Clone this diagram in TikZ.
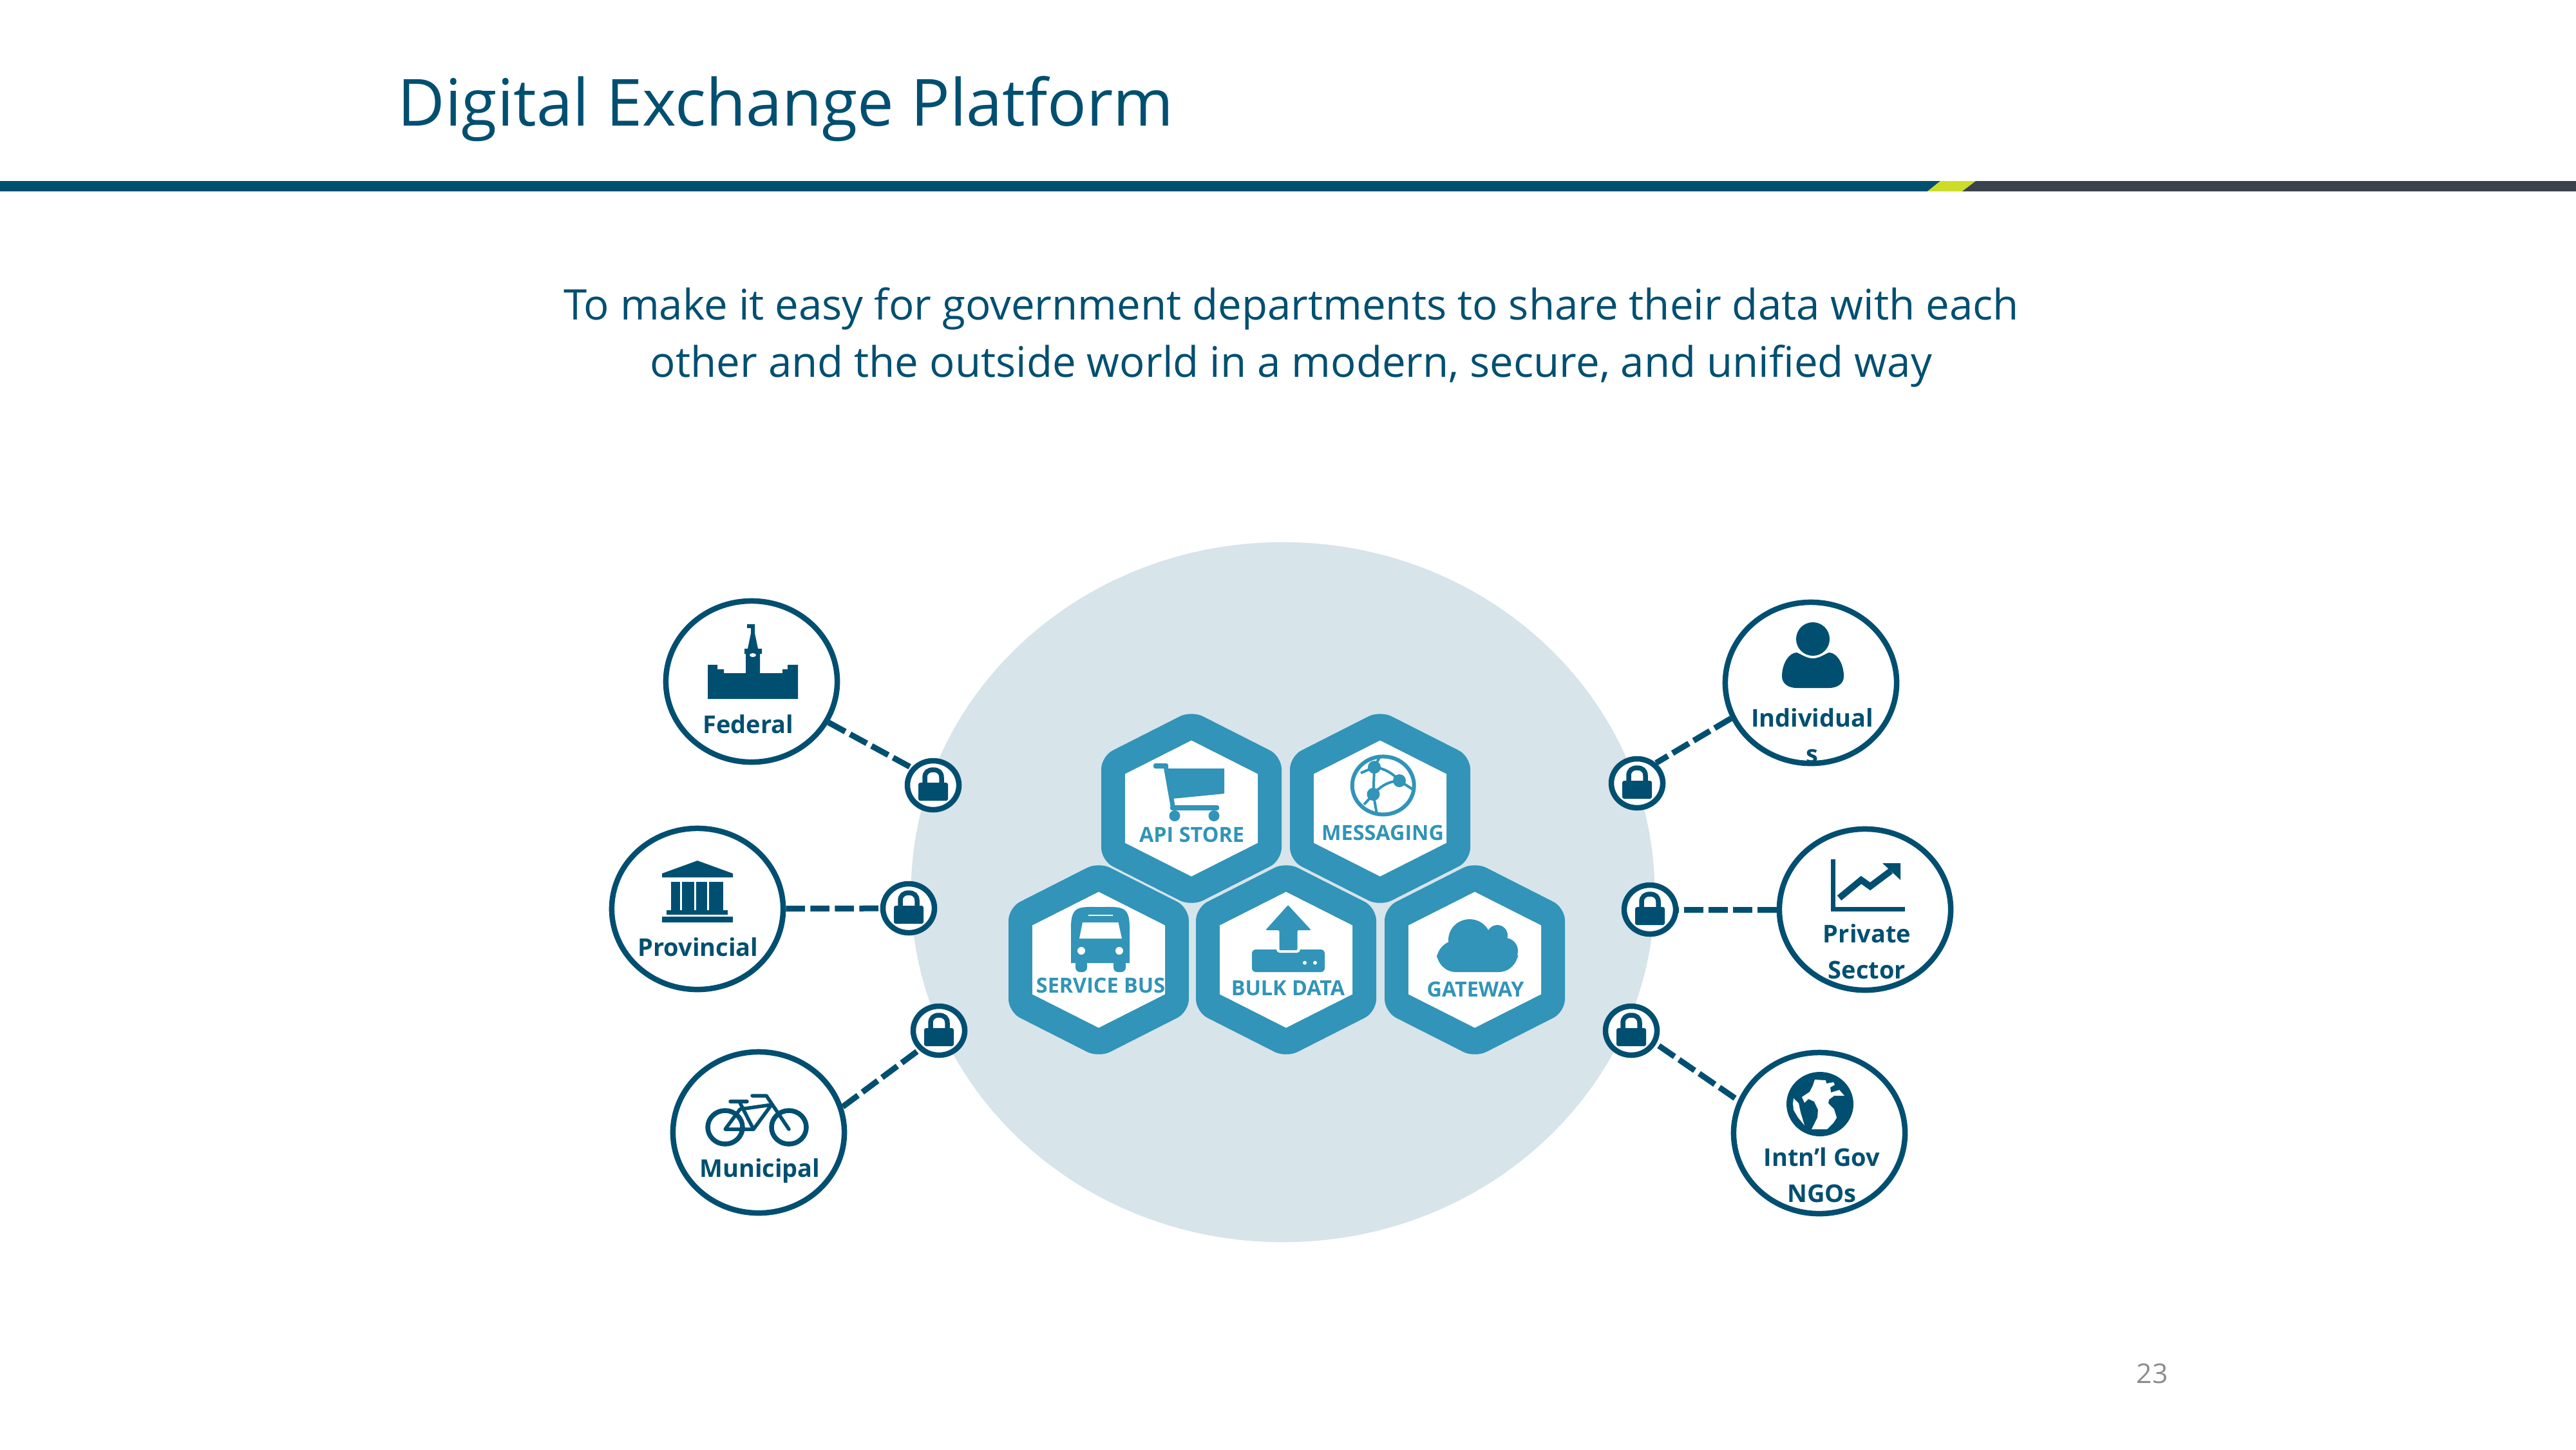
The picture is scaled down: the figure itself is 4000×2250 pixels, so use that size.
\documentclass[tikz,border=0pt]{standalone}
\usepackage{fontspec}
\setmainfont{Open Sans}
\usetikzlibrary{shapes.geometric}
\definecolor{navy}{HTML}{004F71}
\definecolor{teal}{HTML}{3194B8}
\definecolor{pale}{HTML}{D7E4EA}
\definecolor{lime}{HTML}{CDDC29}
\definecolor{slate}{HTML}{3A424B}
\tikzset{
  party/.style={ellipse,draw=navy,fill=white,line width=0.085cm,inner sep=0pt,minimum width=2.66cm,minimum height=2.5cm},
  ring/.style={ellipse,draw=navy,fill=white,line width=0.085cm,inner sep=0pt,minimum width=0.8cm,minimum height=0.76cm},
  link/.style={draw=navy,line width=0.09cm,dash pattern=on 0.295cm off 0.085cm},
  plabel/.style={text=navy,inner sep=0pt,align=center,font=\bfseries\fontsize{10.8}{16}\selectfont},
  hlabel/.style={text=teal,inner sep=0pt,font=\bfseries\fontsize{9.2}{11}\selectfont},
  title/.style={text=navy,inner sep=0pt,font=\fontsize{28.7}{34}\selectfont},
  lead/.style={text=navy,inner sep=0pt,align=center,font=\fontsize{18.6}{25.2}\selectfont},
  pageno/.style={text=black!45,inner sep=0pt,font=\fontsize{12}{14}\selectfont}
}
\newcommand{\lockat}[3]{%
  \node[ring] (#1) at (#2,#3) {};
  \begin{scope}[shift={(#2,#3)}]
    \draw[navy,line width=0.075cm] (-13,-3) -- (-13,-12) .. controls (-13,-20) and (-8,-24) .. (0,-24) .. controls (8,-24) and (13,-20) .. (13,-12) -- (13,-3);
    \fill[navy,rounded corners=0.03cm] (-23,-4) rectangle (23,24);
  \end{scope}}
\newcommand{\hexcell}[7]{%
  \begin{scope}[shift={(#2,#3)}]
    \fill[teal,rounded corners=0.2cm] (0,-152) -- (140,-81) -- (140,81) -- (0,152) -- (-140,81) -- (-140,-81) -- cycle;
    \fill[white] (0,-105.5) -- (103,-53.5) -- (103,53.5) -- (0,105.5) -- (-103,53.5) -- (-103,-53.5) -- cycle;
    #7
    \node[hlabel] (#1) at (#5,#6) {#4};
  \end{scope}}
\begin{document}
\begin{tikzpicture}[x=0.01cm,y=-0.01cm]
\useasboundingbox (0,0) rectangle (4000,2250);
\fill[white] (0,0) rectangle (4000,2250);
% header band
\fill[navy] (0,281) -- (3013,281) -- (2993,297) -- (0,297) -- cycle;
\fill[lime] (3013,281) -- (3068,281) -- (3047,297) -- (2993,297) -- cycle;
\fill[slate] (3068,281) -- (4000,281) -- (4000,297) -- (3047,297) -- cycle;
\node[title,anchor=base west] (ttl) at (617,195) {Digital Exchange Platform};
\node[lead] (sub) at (2005,524) {To make it easy for government departments to share their data with each\\other and the outside world in a modern, secure, and unified way};
\node[pageno] (pg) at (3342,2132) {23};
% platform disc
\node[ellipse,fill=pale,inner sep=0pt,minimum width=11.54cm,minimum height=10.86cm] (disc) at (1992,1385) {};
% hex cells
\hexcell{api}{1850}{1255}{API STORE}{0.5}{41}{
  \fill[teal,rounded corners=0.03cm] (-59,-70) rectangle (-36,-62);
  \draw[teal,line width=0.07cm] (-40,-66) -- (-29,-4);
  \fill[teal] (-41,-62) -- (51,-62) -- (51,-23) -- (-30,-15) -- cycle;
  \fill[teal,rounded corners=0.03cm] (-33,-5) rectangle (43,3);
  \fill[teal] (-26,11.5) ellipse [x radius=8.5,y radius=8.5];
  \fill[teal] (35,11.5) ellipse [x radius=8.5,y radius=8.5];
}
\hexcell{msg}{2143}{1255}{MESSAGING}{4}{38}{
  \draw[teal,line width=0.06cm] (4.7,-35.6) ellipse [x radius=48,y radius=45];
  \draw[teal,line width=0.04cm] (-9,-64) .. controls (8,-62) and (20,-54) .. (30,-43);
  \draw[teal,line width=0.04cm] (30,-43) .. controls (12,-42) and (0,-34) .. (-10.5,-22);
  \draw[teal,line width=0.04cm] (-9,-64) -- (-10.5,-22) -- (-5,9);
  \draw[teal,line width=0.04cm] (-9,-64) -- (-30,-55);
  \draw[teal,line width=0.04cm] (-9,-64) -- (0,-81);
  \draw[teal,line width=0.04cm] (30,-43) -- (50,-30);
  \draw[teal,line width=0.04cm] (-10.5,-22) -- (-25,-6);
  \fill[teal] (-9,-64) circle [radius=10];
  \fill[teal] (30,-43) circle [radius=10];
  \fill[teal] (-10.5,-22) circle [radius=10];
}
\hexcell{bus}{1706}{1490}{SERVICE BUS}{3}{40}{
  \fill[teal] (-43,5) -- (-43,-50) .. controls (-43,-85) and (-30,-82) .. (2,-82) .. controls (35,-82) and (48,-85) .. (48,-50) -- (48,5) -- cycle;
  \fill[teal,rounded corners=0.07cm] (-36,0) rectangle (-18,19);
  \fill[teal,rounded corners=0.07cm] (23,0) rectangle (42,19);
  \fill[white] (-25,-58) -- (30.5,-58) -- (36,-33) -- (-30,-33) -- cycle;
  \fill[white] (-16,-70) rectangle (22,-68);
  \fill[white] (-27,-14) circle [radius=6];
  \fill[white] (32,-14) circle [radius=6];
}
\hexcell{bulk}{1997}{1490}{BULK DATA}{3}{44}{
  \fill[teal,rounded corners=0.06cm] (-53,-16) rectangle (60,19);
  \fill[white,rounded corners=0.05cm] (-15,-25) rectangle (22,-11);
  \fill[teal,rounded corners=0.02cm] (3,-85) -- (39,-46) -- (17.5,-46) -- (17.5,-15) -- (-10.5,-15) -- (-10.5,-46) -- (-32,-46) -- cycle;
  \fill[white] (29,4.6) circle [radius=3];
  \fill[white] (45,4.6) circle [radius=3];
}
\hexcell{gate}{2290}{1490}{GATEWAY}{1}{46}{
  \fill[teal] (-8,-31) ellipse [x radius=33,y radius=32];
  \fill[teal] (35,-38) ellipse [x radius=16,y radius=16];
  \fill[teal] (47,-14) ellipse [x radius=20,y radius=20];
  \fill[teal,rounded corners=0.3cm] (-59,-30) rectangle (67,19);
}
% parties
\node[party] (fed) at (1167,1058) {};
\node[party] (prov) at (1083,1411) {};
\node[party] (muni) at (1178,1758) {};
\node[party] (indv) at (2812,1060) {};
\node[party] (priv) at (2896,1412) {};
\node[party] (intl) at (2825,1759) {};
\lockat{lfed}{1449}{1219}
\lockat{lprov}{1411}{1410}
\lockat{lmuni}{1458}{1600}
\lockat{lindv}{2542}{1216}
\lockat{lpriv}{2562}{1412}
\lockat{lintl}{2533}{1600}
\draw[link] (fed.-28) -- (lfed.141);
\draw[link] (prov) -- (lprov);
\draw[link] (muni.17.5) -- (lmuni.224);
\draw[link] (indv.204) -- (lindv.47);
\draw[link] (priv) -- (lpriv);
\draw[link,shorten <=0.05cm] (lintl.-28) -- (intl.158);
% federal icon
\fill[navy] (1099,1085) -- (1239,1085) -- (1239,1032) -- (1223,1032) -- (1223,1039) -- (1215,1039) -- (1215,1045) -- (1180,1045) -- (1180,1015) -- (1183,1015) -- (1183,1007) -- (1177,1007) -- (1172,983) -- (1172,969) -- (1160,969) -- (1160,975) -- (1166,975) -- (1166,983) -- (1161,1007) -- (1156,1007) -- (1156,1015) -- (1158,1015) -- (1158,1045) -- (1124,1045) -- (1124,1039) -- (1114,1039) -- (1114,1032) -- (1099,1032) -- cycle;
\fill[white] (1169,1017) ellipse [x radius=5,y radius=3];
\node[plabel] (tfed) at (1162,1124) {Federal};
% provincial icon
\fill[navy] (1083,1336) -- (1138,1356) -- (1138,1362) -- (1028,1362) -- (1028,1356) -- cycle;
\fill[navy] (1042,1369) rectangle (1123,1413);
\fill[white] (1056,1369) rectangle (1059,1413);
\fill[white] (1078,1369) rectangle (1081,1413);
\fill[white] (1098,1369) rectangle (1101,1413);
\fill[navy] (1035,1413) rectangle (1130,1420);
\fill[navy] (1028,1423) rectangle (1138,1432);
\node[plabel] (tprov) at (1084,1470) {Provincial};
% municipal icon
\draw[navy,line width=0.075cm] (1126,1750) ellipse [x radius=27,y radius=26];
\draw[navy,line width=0.075cm] (1225,1750) ellipse [x radius=27,y radius=26];
\draw[navy,line width=0.055cm,line join=round,line cap=round] (1126,1753) -- (1170,1753) -- (1198,1715) -- (1149,1722) -- cycle;
\draw[navy,line width=0.055cm,line cap=round] (1149,1712) -- (1170,1753);
\draw[navy,line width=0.055cm,line join=round,line cap=round] (1168,1701) -- (1190,1701) -- (1225,1753);
\draw[navy,line width=0.055cm,line cap=round] (1134,1710) -- (1160,1710);
\node[plabel] (tmuni) at (1180,1818) {Municipal};
% individual icon
\fill[navy] (2767,1050) .. controls (2767,1030) and (2778,1013) .. (2790,1013) .. controls (2798,1016) and (2805,1022) .. (2815,1022) .. controls (2825,1022) and (2832,1016) .. (2840,1013) .. controls (2852,1013) and (2863,1030) .. (2863,1050) .. controls (2863,1062) and (2852,1068) .. (2840,1068) -- (2790,1068) .. controls (2778,1068) and (2767,1062) .. (2767,1050) -- cycle;
\fill[navy] (2815,992) circle [radius=26];
\node[plabel] (tindv) at (2814,1142) {Individual\\s};
% private sector icon
\fill[navy] (2843,1334) rectangle (2850,1415);
\fill[navy] (2843,1408) rectangle (2958,1415);
\draw[navy,line width=0.1cm,line join=miter] (2856,1394) -- (2890,1366) -- (2904,1376) -- (2936,1352);
\fill[navy] (2951,1340) -- (2923,1340) -- (2951,1366) -- cycle;
\node[plabel] (tpriv) at (2899,1477) {Private\\Sector};
% international icon
\fill[navy] (2826,1714) ellipse [x radius=52,y radius=50];
\fill[white] (2818,1676) -- (2835,1677) -- (2836,1682) -- (2847,1680) -- (2849,1684) -- (2842,1688) -- (2843,1696) -- (2856,1692) -- (2864,1701) -- (2848,1701) -- (2840,1707) -- (2839,1713) -- (2848,1722) -- (2852,1735) -- (2847,1743) -- (2837,1753) -- (2813,1753) -- (2822,1735) -- (2823,1723) -- (2817,1710) -- (2808,1706) -- (2802,1712) -- (2798,1703) -- (2810,1695) -- (2815,1685) -- cycle;
\fill[white] (2785,1705) -- (2793,1713) -- (2796,1727) -- (2802,1747) -- (2792,1735) -- (2785,1723) -- (2784,1713) -- cycle;
\node[plabel] (tintl) at (2829,1824) {Intn’l Gov\\NGOs};
\end{tikzpicture}
\end{document}
